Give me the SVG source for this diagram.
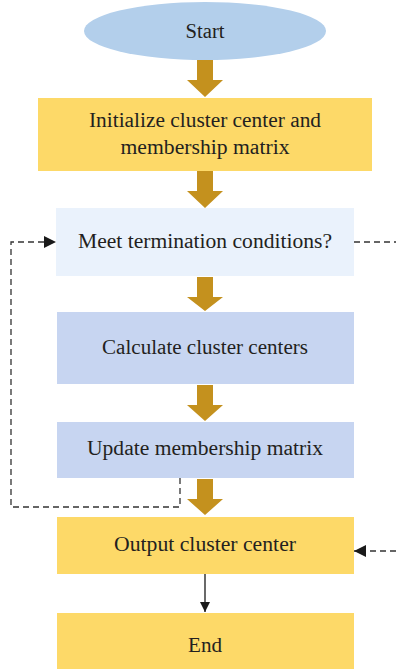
<svg xmlns="http://www.w3.org/2000/svg" width="396" height="672" viewBox="0 0 396 672">
<defs>
<style>
.t{font-family:"Liberation Serif","Times New Roman",serif;font-size:20px;fill:#231f20;text-anchor:middle;dominant-baseline:central}
.y{fill:#FDD968}
.l{fill:#EAF2FC}
.b{fill:#C7D5F1}
.ga{fill:#C4911E}
.d{fill:none;stroke:#333;stroke-width:1.3;stroke-dasharray:6 4}
</style>
<marker id="ah" viewBox="0 0 10 10" refX="10" refY="5" markerWidth="10" markerHeight="10" markerUnits="userSpaceOnUse" orient="auto"><path d="M0,0 L10,5 L0,10 z" fill="#1a1a1a"/></marker>
<marker id="ah2" viewBox="0 0 12 12" refX="12" refY="6" markerWidth="12" markerHeight="12" markerUnits="userSpaceOnUse" orient="auto"><path d="M0,0 L12,6 L0,12 z" fill="#1a1a1a"/></marker>
</defs>
<g id="start"><ellipse cx="205" cy="31" rx="121" ry="29" fill="#B3CFEB"/><text class="t" x="205" y="31" textLength="39" lengthAdjust="spacingAndGlyphs">Start</text></g>
<g id="init"><rect class="y" x="38" y="98" width="334" height="73"/><text class="t" x="205" y="120" textLength="232" lengthAdjust="spacingAndGlyphs">Initialize cluster center and</text><text class="t" x="205" y="147" textLength="169" lengthAdjust="spacingAndGlyphs">membership matrix</text></g>
<g id="meet"><rect class="l" x="56" y="208" width="298" height="68"/><text class="t" x="205" y="241" textLength="254" lengthAdjust="spacingAndGlyphs">Meet termination conditions?</text></g>
<g id="calc"><rect class="b" x="57" y="312" width="297" height="72"/><text class="t" x="205" y="347" textLength="206" lengthAdjust="spacingAndGlyphs">Calculate cluster centers</text></g>
<g id="update"><rect class="b" x="57" y="422" width="297" height="56"/><text class="t" x="205" y="448" textLength="236" lengthAdjust="spacingAndGlyphs">Update membership matrix</text></g>
<g id="output"><rect class="y" x="57" y="517" width="297" height="57"/><text class="t" x="205" y="544" textLength="182" lengthAdjust="spacingAndGlyphs">Output cluster center</text></g>
<g id="end"><rect class="y" x="57" y="613" width="297" height="56"/><text class="t" x="205" y="645" textLength="34" lengthAdjust="spacingAndGlyphs">End</text></g>
<g id="connectors">
<path class="ga" d="M197,60 H213 V80 H223 L205,97 L187,80 H197 Z"/>
<path class="ga" d="M197,171 H213 V191 H223 L205,208 L187,191 H197 Z"/>
<path class="ga" d="M197,277 H213 V297 H223 L205,311 L187,297 H197 Z"/>
<path class="ga" d="M197,385 H213 V405 H223 L205,421 L187,405 H197 Z"/>
<path class="ga" d="M197,479 H213 V499 H223 L205,515 L187,499 H197 Z"/>
<path d="M205,574 V612" stroke="#1a1a1a" stroke-width="1.3" fill="none" marker-end="url(#ah)"/>
<path class="d" d="M180,478 V507 H11 V242 H56" marker-end="url(#ah2)"/>
<path class="d" d="M354,242 H396"/>
<path class="d" d="M396,551 H354" marker-end="url(#ah2)"/>
</g>
</svg>
